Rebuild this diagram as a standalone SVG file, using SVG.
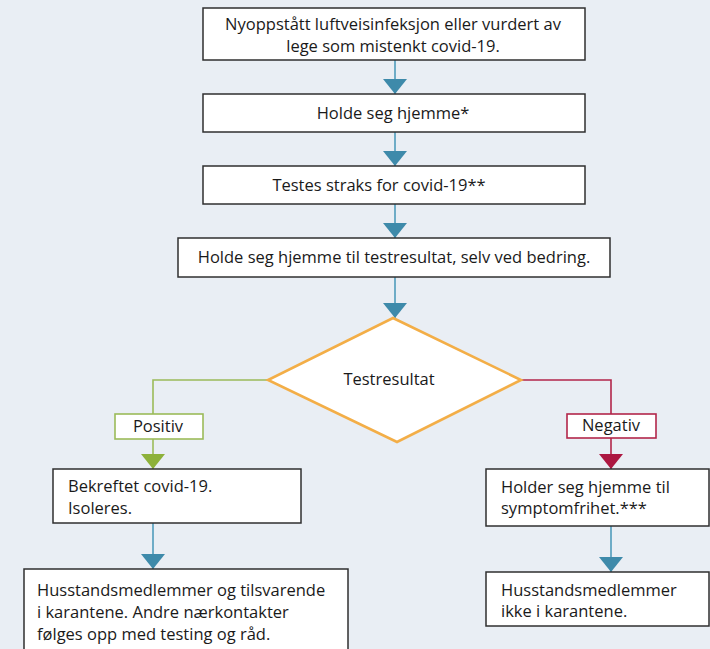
<svg xmlns="http://www.w3.org/2000/svg" width="710" height="649" viewBox="0 0 710 649">
<defs>
<style>
.bg{fill:#e9eef4}
.box{fill:#fff;stroke:#2f2f2f;stroke-width:1.5}
.t{font-family:"Open Sans","Liberation Sans",sans-serif;font-size:16.5px;fill:#1a1a1a}
.c{text-anchor:middle}
.blue{fill:none;stroke:#4f9bbb;stroke-width:1.6}
.green{fill:none;stroke:#9bbb59;stroke-width:1.6}
.red{fill:none;stroke:#b2264a;stroke-width:1.6}
</style>
<marker id="ab" viewBox="0 0 15 24" refX="15" refY="12" markerWidth="15" markerHeight="24" markerUnits="userSpaceOnUse" orient="auto"><path d="M0,0L15,12L0,24z" fill="#3e8aaa"/></marker>
<marker id="ag" viewBox="0 0 15 24" refX="15" refY="12" markerWidth="15" markerHeight="24" markerUnits="userSpaceOnUse" orient="auto"><path d="M0,0L15,12L0,24z" fill="#8db13a"/></marker>
<marker id="ar" viewBox="0 0 15 24" refX="15" refY="12" markerWidth="15" markerHeight="24" markerUnits="userSpaceOnUse" orient="auto"><path d="M0,0L15,12L0,24z" fill="#ac1741"/></marker>
</defs>
<rect class="bg" x="0" y="0" width="710" height="649"/>
<g id="connectors">
<path class="blue" d="M395,60V94" marker-end="url(#ab)"/>
<path class="blue" d="M395,132V166" marker-end="url(#ab)"/>
<path class="blue" d="M395,204V238" marker-end="url(#ab)"/>
<path class="blue" d="M395,277V318" marker-end="url(#ab)"/>
<path class="green" d="M268,380H153V414"/>
<path class="green" d="M153,439V469" marker-end="url(#ag)"/>
<path class="red" d="M521,380H611V414"/>
<path class="red" d="M611,438V469" marker-end="url(#ar)"/>
<path class="blue" d="M153,523V569" marker-end="url(#ab)"/>
<path class="blue" d="M611,526V572" marker-end="url(#ab)"/>
</g>
<g id="n1"><rect class="box" x="203" y="8" width="382" height="52"/>
<text class="t c" x="393" y="30">Nyoppstått luftveisinfeksjon eller vurdert av</text>
<text class="t c" x="393" y="51.5">lege som mistenkt covid-19.</text></g>
<g id="n2"><rect class="box" x="203" y="94" width="382" height="38"/>
<text class="t c" x="393" y="119">Holde seg hjemme*</text></g>
<g id="n3"><rect class="box" x="203" y="166" width="382" height="38"/>
<text class="t c" x="379" y="191">Testes straks for covid-19**</text></g>
<g id="n4"><rect class="box" x="178" y="238" width="432" height="39"/>
<text class="t c" x="394" y="263">Holde seg hjemme til testresultat, selv ved bedring.</text></g>
<g id="decision"><polygon points="393,318 521,380 397,442 268,380" fill="#fff" stroke="#f3ae47" stroke-width="2.6" stroke-linejoin="miter"/>
<text class="t c" x="389" y="385">Testresultat</text></g>
<g id="positiv"><rect x="115" y="414" width="88" height="25" fill="#fff" stroke="#9bbb59" stroke-width="1.6"/>
<text class="t c" x="158" y="432">Positiv</text></g>
<g id="negativ"><rect x="567" y="414" width="89" height="24" fill="#fff" stroke="#b2264a" stroke-width="1.6"/>
<text class="t c" x="611" y="431">Negativ</text></g>
<g id="n5"><rect class="box" x="53" y="469" width="248" height="54"/>
<text class="t" x="68" y="492">Bekreftet covid-19.</text>
<text class="t" x="68" y="514">Isoleres.</text></g>
<g id="n6"><rect class="box" x="24" y="569" width="324" height="90"/>
<text class="t" x="37" y="596">Husstandsmedlemmer og tilsvarende</text>
<text class="t" x="37" y="618">i karantene. Andre nærkontakter</text>
<text class="t" x="37" y="640">følges opp med testing og råd.</text></g>
<g id="n7"><rect class="box" x="486" y="469" width="223" height="57"/>
<text class="t" x="501" y="493">Holder seg hjemme til</text>
<text class="t" x="501" y="514">symptomfrihet.***</text></g>
<g id="n8"><rect class="box" x="486" y="572" width="223" height="54"/>
<text class="t" x="501" y="596">Husstandsmedlemmer</text>
<text class="t" x="501" y="617">ikke i karantene.</text></g>
</svg>
